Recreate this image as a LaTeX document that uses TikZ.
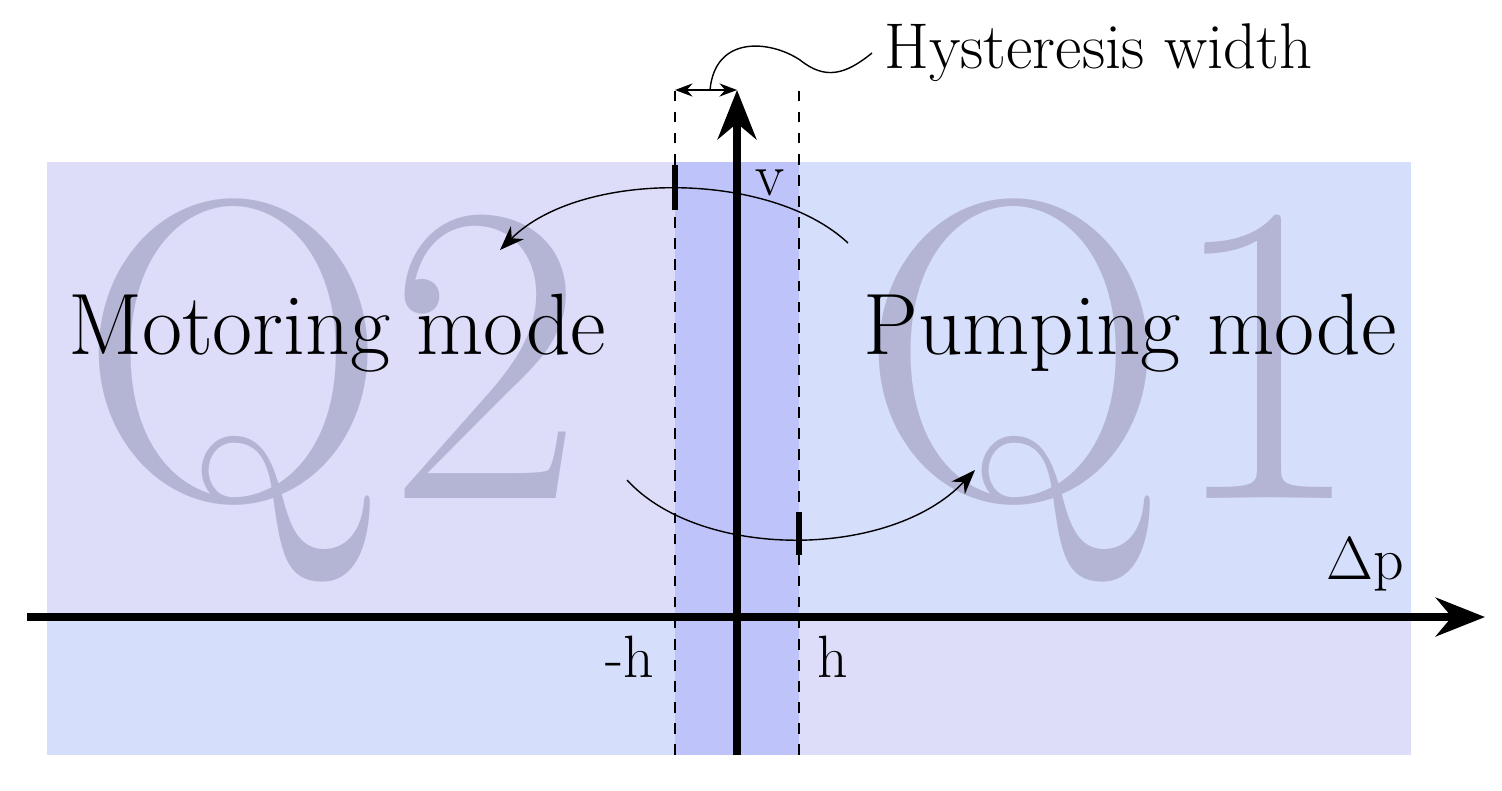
\documentclass[tikz,border=0pt]{standalone}
\usetikzlibrary{arrows.meta}
\definecolor{bgA}{RGB}{221,221,250}
\definecolor{bgB}{RGB}{213,222,250}
\definecolor{band}{RGB}{190,196,250}
\definecolor{quad}{RGB}{180,180,212}
\tikzset{
  quadrant/.style={text=quad,font=\fontsize{122}{125}\selectfont},
  modetext/.style={font=\fontsize{24.8}{28}\selectfont},
  lbl/.style={font=\fontsize{17}{20}\selectfont},
  axis/.style={line width=2.2pt,-{Stealth[length=14pt,width=11pt]}},
  hyst/.style={dashed,thin},
  tick/.style={line width=1.6pt}
}
\begin{document}
\begin{tikzpicture}
    \useasboundingbox (0,0) rectangle (15.02,7.90);
    % background quadrants
    \fill[bgA] (0.47,1.73) rectangle (7.37,6.28);
    \fill[bgB] (7.37,1.73) rectangle (14.11,6.28);
    \fill[bgB] (0.47,0.35) rectangle (7.37,1.73);
    \fill[bgA] (7.37,0.35) rectangle (14.11,1.73);
    \fill[band] (6.75,0.35) rectangle (7.99,6.28);
    \node[quadrant] (q2) at (3.32,4.00) {Q2};
    \node[quadrant] (q1) at (11.12,4.00) {Q1};
    \node[modetext] (motor) at (3.37,4.57) {Motoring mode};
    \node[modetext] (pump) at (11.30,4.57) {Pumping mode};
    % hysteresis band
    \coordinate (hl) at (6.75,7.00);
    \coordinate (hm) at (7.37,7.00);
    \draw[hyst] (6.75,0.35) -- (hl);
    \draw[hyst] (7.99,0.35) -- (7.99,7.00);
    \draw[{Stealth[length=5pt]}-{Stealth[length=5pt]}] (hl) -- (hm);
    \node[font=\fontsize{18.4}{22}\selectfont,anchor=west] (hw) at (8.72,7.37) {Hysteresis width};
    \draw (7.10,7.00) .. controls (7.15,7.55) and (7.70,7.50) .. (8.00,7.30)
          .. controls (8.25,7.10) and (8.45,7.15) .. (hw.west);
    % axes
    \coordinate (xs) at (0.27,1.73);
    \coordinate (xe) at (14.85,1.73);
    \coordinate (ys) at (7.37,0.35);
    \coordinate (ye) at (7.37,7.00);
    \draw[axis] (xs) -- (xe);
    \draw[axis] (ys) -- (ye);
    \node[lbl] (v) at (7.70,6.07) {v};
    \node[lbl] (dp) at (13.65,2.25) {$\Delta$p};
    \node[lbl] (mh) at (6.30,1.33) {-h};
    \node[lbl] (h) at (8.33,1.33) {h};
    % switching
    \draw[tick] (6.75,5.80) -- (6.75,6.25);
    \draw[tick] (7.99,2.35) -- (7.99,2.78);
    \coordinate (ua) at (8.48,5.47);
    \coordinate (ub) at (5.00,5.40);
    \coordinate (la) at (6.27,3.10);
    \coordinate (lb) at (9.75,3.20);
    \draw[-{Stealth[length=7pt]}] (ua) .. controls (7.70,6.20) and (5.80,6.20) .. (ub);
    \draw[-{Stealth[length=7pt]}] (la) .. controls (7.00,2.30) and (8.90,2.30) .. (lb);
\end{tikzpicture}
\end{document}
